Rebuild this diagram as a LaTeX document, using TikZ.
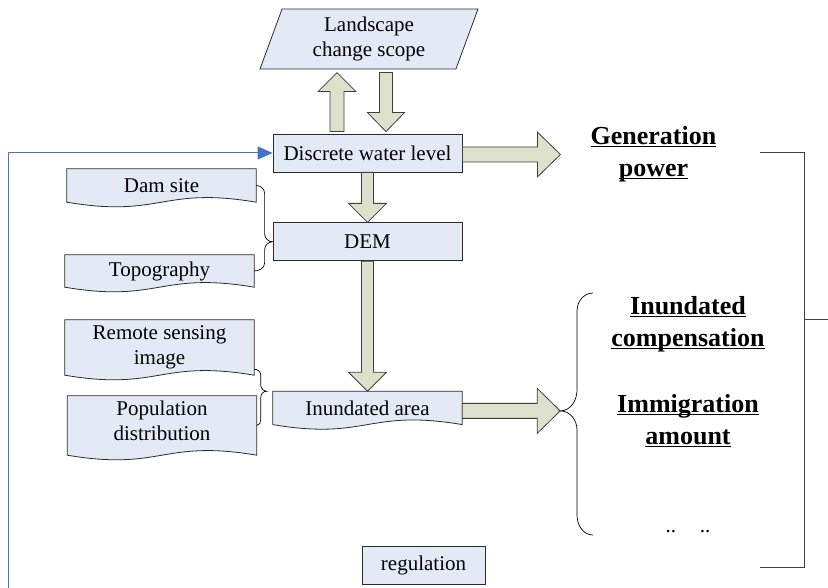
\documentclass[tikz,border=0pt]{standalone}
\usepackage{fontspec}
\setmainfont{Liberation Serif}
\usepackage{tikz}
\usetikzlibrary{shapes.geometric,arrows.meta,positioning,calc,backgrounds}
\pgfdeclarelayer{background}
\pgfdeclarelayer{foreground}
\pgfsetlayers{background,main,foreground}

% outline of a document-shaped node (wavy bottom)
\newcommand{\docoutline}[1]{%
  \begin{pgfonlayer}{background}
    \draw[docline] let \p1=(#1.south west), \p2=(#1.north east), \n1={\x2-\x1} in
      (\p1) -- (\x1,\y2) -- (\p2) -- (\x2,\y1)
      .. controls (\x2-0.5*\n1,\y1+16pt) and (\x1+0.5*\n1,\y1-16pt) .. (\p1) -- cycle;
  \end{pgfonlayer}}

% block arrow: from, to, half shaft, half head, head length
\newcommand{\fatarrow}[5]{%
  \draw[fatline] let \p1=(#1), \p2=(#2), \n1={atan2(\y2-\y1,\x2-\x1)}, \n2={veclen(\x2-\x1,\y2-\y1)} in
    [shift={(\p1)}, rotate=\n1]
    (0pt,#3) -- ({\n2-#5},#3) -- ({\n2-#5},#4) -- (\n2,0pt) -- ({\n2-#5},-#4)
    -- ({\n2-#5},-#3) -- (0pt,-#3) -- cycle;}

% brace joining two inputs to one node: upper end, tip, lower end, depth
\newcommand{\bracejoin}[4]{%
  \draw[bracel] let \p1=(#1), \p2=(#2), \p3=(#3) in
    (\p1) to[out=0,in=90] (\x2-#4,\y1-#4) -- (\x2-#4,\y2+#4) to[out=-90,in=180] (\p2)
    to[out=180,in=90] (\x2-#4,\y2-#4) -- (\x2-#4,\y3+#4) to[out=-90,in=0] (\p3);}

\begin{document}
\begin{tikzpicture}[x=1pt,y=1pt,
    font=\fontsize{21}{25}\selectfont,
    box/.style={draw=boxedge, fill=boxfill, line width=0.8pt, minimum width=189pt,
      minimum height=38pt, inner sep=0pt, align=center},
    docnode/.style={minimum width=189pt, inner sep=0pt, align=center},
    docline/.style={draw=boxedge, fill=boxfill, line width=0.8pt},
    fatline/.style={draw=arrowedge, fill=arrowfill, line width=0.8pt},
    bracel/.style={draw=black, line width=0.7pt},
    bracket/.style={draw=arrowedge, line width=1pt},
    result/.style={font=\fontsize{26}{32}\selectfont\bfseries, align=center},
    feedback/.style={draw=fbblue, line width=1pt, -{Triangle[length=15pt,width=13pt]}}]
  \definecolor{boxfill}{HTML}{E3EAF6}
  \definecolor{boxedge}{HTML}{2B2B2B}
  \definecolor{arrowfill}{HTML}{DDE0CB}
  \definecolor{arrowedge}{HTML}{3F3F3F}
  \definecolor{fbblue}{HTML}{4472C4}

  \useasboundingbox (0,0) rectangle (828,588);

  \node[box] (disc) at (367.5,435) {Discrete water level};
  \node[box, below=50pt of disc] (dem) {DEM};
  \node[docnode, minimum height=33pt, below=130pt of dem] (inund) {Inundated area};
  \node[trapezium, trapezium left angle=63.43, trapezium right angle=116.57,
    trapezium stretches body, minimum width=218pt, minimum height=60pt,
    draw=boxedge, fill=boxfill, line width=0.8pt, align=center, inner sep=0pt]
    (land) at (369,549) {Landscape\\change scope};
  \node[box, minimum width=123pt] (regul) at (423.5,23) {regulation};

  \node[docnode, minimum height=33pt] (dam) at (161.5,402.5) {Dam site};
  \node[docnode, minimum height=32pt] (topo) at (159.5,317) {Topography};
  \node[docnode, minimum height=55pt] (remote) at (159.5,240.5) {Remote sensing\\image};
  \node[docnode, minimum height=59pt, text depth=10pt] (popul) at (162,162.5) {Population\\distribution};
  \docoutline{dam}
  \docoutline{topo}
  \docoutline{remote}
  \docoutline{popul}
  \docoutline{inund}

  \node[result] (gen) at (653.5,426.5) {\underline{\smash{Generation}}\\\underline{\smash{power}}};
  \node[result] (comp) at (688,256) {\underline{\smash{Inundated}}\\\underline{\smash{compensation}}};
  \node[result] (immig) at (688,158.5) {\underline{\smash{Immigration}}\\\underline{\smash{amount}}};
  \node (dots) at (688,56) {..\hspace{24pt}..};

  % block arrows
  \fatarrow{$(disc.north)+(-30.5,2)$}{$(disc.north)+(-30.5,61)$}{7pt}{19pt}{19pt}
  \fatarrow{$(disc.north)+(18.5,61)$}{$(disc.north)+(18.5,2)$}{6.5pt}{18.5pt}{19pt}
  \fatarrow{disc.south}{dem.north}{6pt}{19pt}{19pt}
  \fatarrow{dem.south}{inund.north}{6pt}{19pt}{19pt}
  \coordinate (tipG) at ($(disc.east)+(98,-1.5)$);
  \coordinate (tipR) at ($(inund.east)+(98,-3)$);
  \fatarrow{$(disc.east)+(0,-1.5)$}{tipG}{7.5pt}{22.5pt}{23pt}
  \fatarrow{$(inund.east)+(0,-3)$}{tipR}{7.5pt}{22.5pt}{23pt}

  % braces
  \bracejoin{dam.east}{dem.west}{topo.east}{8pt}
  \coordinate (tipB) at ($(inund.north west)+(-6,0)$);
  \bracejoin{$(remote.south east)+(0,6)$}{tipB}{popul.east}{6pt}
  \draw[bracel] (593,295) to[out=180,in=90] (577,277) -- (577,198) to[out=-90,in=0] (tipR)
    to[out=0,in=90] (577,158) -- (577,73) to[out=-90,in=180] (593,53);

  % right bracket
  \coordinate (outR) at (828,268);
  \draw[bracket] (760,435) -- (804,435) -- (804,20) -- (760,20);
  \draw[bracket] (804,268) -- (outR);

  % feedback line
  \coordinate (fbstart) at (8,0);
  \draw[feedback] (fbstart) |- (disc.west);
\end{tikzpicture}
\end{document}
